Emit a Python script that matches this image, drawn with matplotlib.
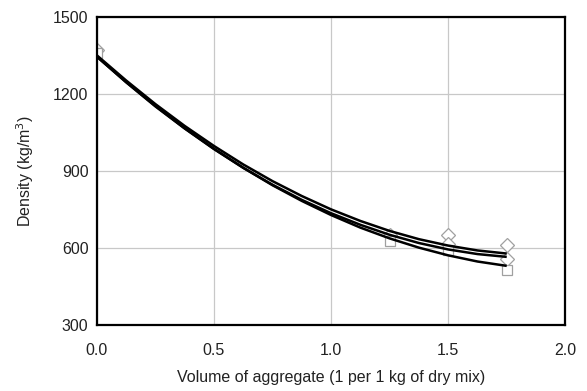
import numpy as np
import matplotlib
matplotlib.use("Agg")
import matplotlib.pyplot as plt

plt.rcParams["font.family"] = ["Liberation Sans", "DejaVu Sans"]

# ------------------------------------------------------------------ data
# trend curves at x steps of 0.125
curve_x = [0, 0.125, 0.25, 0.375, 0.5, 0.625, 0.75, 0.875,
           1.0, 1.125, 1.25, 1.375, 1.5, 1.625, 1.75]
curve_a = [1350, 1252, 1160, 1075, 997, 925, 860, 802,
           750, 705, 666, 634, 609, 590, 578]
curve_b = [1345, 1245, 1151, 1065, 985, 912, 846, 787,
           735, 690, 651, 619, 594, 576, 565]
curve_c = [1345, 1246, 1153, 1066, 986, 912, 844, 783,
           728, 679, 637, 601, 571, 547, 530]

# measured points
diamond_x = [0, 1.25, 1.5, 1.5, 1.75, 1.75]
diamond_y = [1370, 650, 652, 615, 610, 555]
square_x = [0, 1.25, 1.5, 1.75]
square_y = [1360, 625, 590, 515]

x_ticks = [0.0, 0.5, 1.0, 1.5, 2.0]
y_ticks = [300, 600, 900, 1200, 1500]

# ---------------------------------------------------------------- figure
fig = plt.figure(figsize=(5.87, 3.91), dpi=100)
ax = fig.add_axes([0.165, 0.169, 0.798, 0.788])

mk = dict(linestyle="none", markerfacecolor="white",
          markeredgecolor="#a0a0a0", markeredgewidth=0.9, zorder=2)
ax.plot(diamond_x, diamond_y, marker="D", markersize=7, **mk)
ax.plot(square_x, square_y, marker="s", markersize=7, **mk)

for ys in (curve_a, curve_b, curve_c):
    ax.plot(curve_x, ys, color="black", lw=1.8, zorder=3,
            solid_capstyle="butt")

ax.set_xlim(0, 2.0)
ax.set_ylim(300, 1500)
ax.set_xticks(x_ticks)
ax.set_xticklabels([f"{v:.1f}" for v in x_ticks])
ax.set_yticks(y_ticks)
ax.grid(True, color="#c8c8c8", lw=0.9)
ax.set_axisbelow(True)
ax.tick_params(length=0, labelsize=11.5, colors="#222222")
ax.tick_params(axis="x", pad=13)
ax.tick_params(axis="y", pad=6)
for s in ax.spines.values():
    s.set_linewidth(1.6)
    s.set_color("black")

ax.set_xlabel("Volume of aggregate (1 per 1 kg of dry mix)",
              fontsize=11.5, labelpad=9, color="#222222")
ax.set_ylabel("Density (kg/m$^3$)", fontsize=11.5, labelpad=12,
              color="#222222")

fig.savefig("out.png", dpi=100)
